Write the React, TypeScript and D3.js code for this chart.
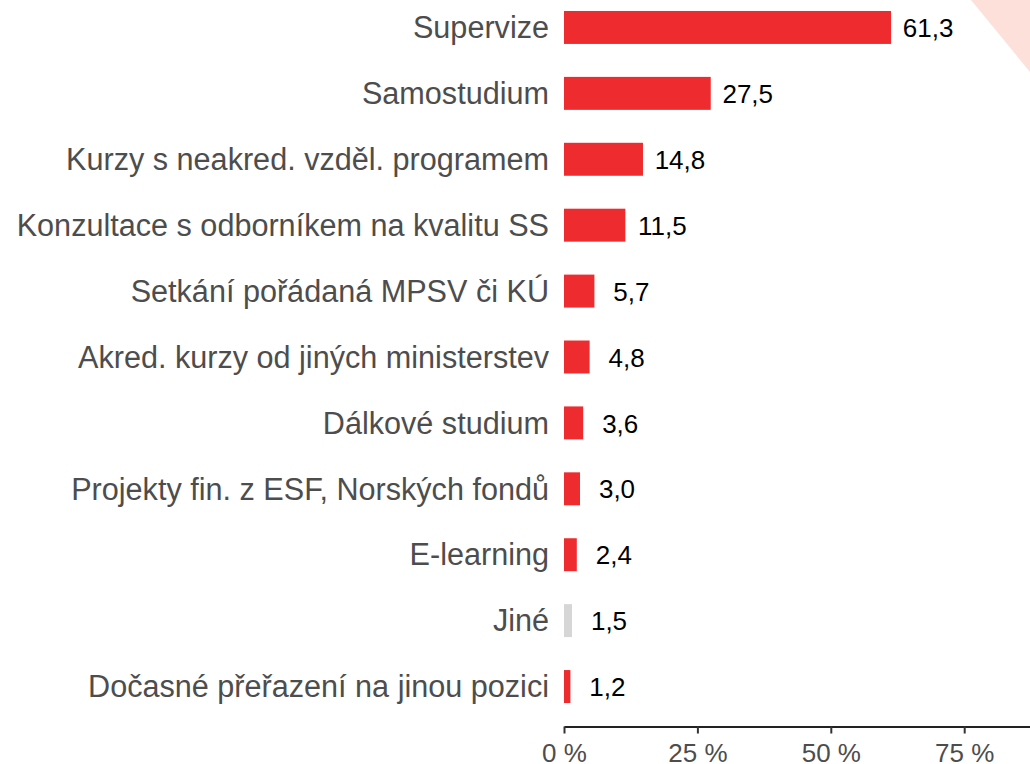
import { useEffect, useRef } from "react"
import * as d3 from "d3"

const categories = [
  "Supervize",
  "Samostudium",
  "Kurzy s neakred. vzděl. programem",
  "Konzultace s odborníkem na kvalitu SS",
  "Setkání pořádaná MPSV či KÚ",
  "Akred. kurzy od jiných ministerstev",
  "Dálkové studium",
  "Projekty fin. z ESF, Norských fondů",
  "E-learning",
  "Jiné",
  "Dočasné přeřazení na jinou pozici",
]
const values = [61.3, 27.5, 14.8, 11.5, 5.7, 4.8, 3.6, 3.0, 2.4, 1.5, 1.2]
const tickValues = [0, 25, 50, 75]

const W = 1030
const H = 764

const App = () => {
  const ref = useRef<SVGSVGElement>(null)

  useEffect(() => {
    const svg = d3.select(ref.current)
    svg.selectAll("*").remove()

    const data = categories.map((c, i) => ({ cat: c, val: values[i] }))

    const x0 = 564
    const xScale = d3.scaleLinear().domain([0, (W - x0) / 5.336]).range([x0, W])
    const yScale = d3.scaleBand().domain(categories).range([-5.5, 719.5])
      .paddingInner(0.5).paddingOuter(0.25)

    // pink corner decoration
    svg.append("polygon")
      .attr("points", `971,0 ${W},0 ${W},72`)
      .attr("fill", "#fde0da")

    svg.append("g")
      .selectAll("rect")
      .data(data)
      .join("rect")
      .attr("x", xScale(0))
      .attr("y", d => yScale(d.cat)!)
      .attr("width", d => xScale(d.val) - xScale(0))
      .attr("height", yScale.bandwidth())
      .attr("fill", d => d.cat === "Jiné" ? "#d6d6d6" : "#ee2b2e")

    // category labels
    svg.append("g")
      .attr("font-family", "'Liberation Sans', Arial, sans-serif")
      .attr("font-size", 30.6)
      .attr("fill", "#4d4d4d")
      .attr("text-anchor", "end")
      .selectAll("text")
      .data(data)
      .join("text")
      .attr("x", 549)
      .attr("y", d => yScale(d.cat)! + yScale.bandwidth() / 2)
      .attr("dy", "0.35em")
      .text(d => d.cat)

    // value labels
    svg.append("g")
      .attr("font-family", "'Liberation Sans', Arial, sans-serif")
      .attr("font-size", 26)
      .attr("fill", "#000")
      .attr("text-anchor", "middle")
      .selectAll("text")
      .data(data)
      .join("text")
      .attr("x", d => xScale(d.val) + 37)
      .attr("y", d => yScale(d.cat)! + yScale.bandwidth() / 2)
      .attr("dy", "0.37em")
      .text(d => d.val.toFixed(1).replace(".", ","))

    const axis = svg.append("g")
      .attr("transform", "translate(0,726.5)")
      .call(d3.axisBottom(xScale)
        .tickValues(tickValues)
        .tickSize(7)
        .tickSizeOuter(0)
        .tickPadding(10)
        .tickFormat(d => d + " %"))
    axis.select(".domain").attr("stroke", "#222").attr("stroke-width", 2.2)
    axis.selectAll(".tick line").attr("stroke", "#333").attr("stroke-width", 2)
    axis.selectAll(".tick text")
      .attr("font-family", "'Liberation Sans', Arial, sans-serif")
      .attr("font-size", 26)
      .attr("fill", "#4d4d4d")
      .attr("dy", 0)
      .attr("y", 35)
  }, [])

  return (
    <svg ref={ref} width={W} height={H}
      style={{ position: "absolute", left: 0, top: 0, background: "#fff" }} />
  )
}

export default App
